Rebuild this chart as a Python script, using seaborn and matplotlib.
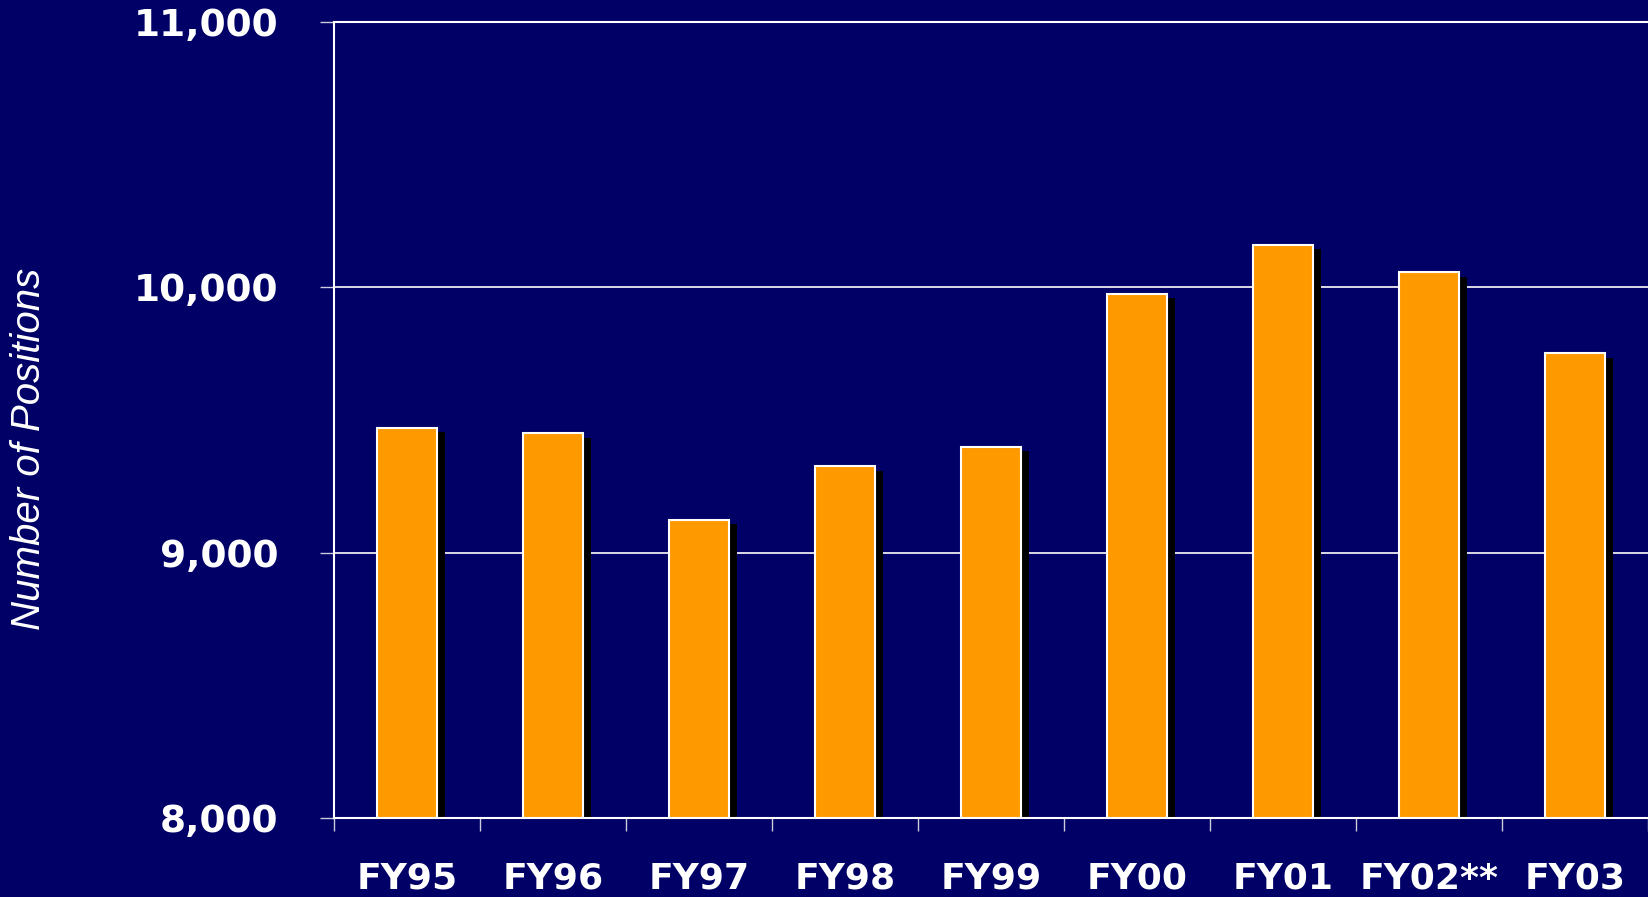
import matplotlib
matplotlib.use("Agg")
import matplotlib.pyplot as plt
import matplotlib.patheffects as pe
from matplotlib.ticker import FuncFormatter, FixedLocator
import pandas as pd
import seaborn as sns

years = ['FY95', 'FY96', 'FY97', 'FY98', 'FY99', 'FY00', 'FY01', 'FY02**', 'FY03']
positions = [9470, 9450, 9125, 9325, 9400, 9975, 10160, 10057, 9752]
y_ticks = [8000, 9000, 10000, 11000]

navy = '#000066'
orange = '#FF9900'

sns.set_style("white")
plt.rcParams['font.family'] = ['DejaVu Sans']

df = pd.DataFrame({'year': years, 'positions': positions})

fig = plt.figure(figsize=(16.48, 8.97), dpi=100, facecolor=navy)
ax = fig.add_axes([334 / 1648, 79 / 897, 1314 / 1648, 796 / 897])
ax.set_facecolor(navy)

sns.barplot(data=df, x='year', y='positions', color=orange, saturation=1,
            edgecolor='white', linewidth=1.5, width=0.41, ax=ax)

for bar in ax.patches:
    bar.set_path_effects([pe.SimplePatchShadow(offset=(5.5, -3.2), shadow_rgbFace='black', alpha=1.0),
                          pe.Normal()])

ax.set_ylim(8000, 11000)
ax.set_xlim(-0.5, len(years) - 0.5)
ax.set_yticks(y_ticks)
ax.yaxis.set_major_formatter(FuncFormatter(lambda v, p: f'{int(v):,}'))
ax.set_axisbelow(True)
ax.grid(axis='y', color='white', linewidth=1.2)

# category boundary ticks below the axis
ax.xaxis.set_minor_locator(FixedLocator([i - 0.5 for i in range(len(years) + 1)]))
ax.tick_params(axis='x', which='minor', bottom=True, length=9, width=1, color='#ccccdd')
ax.tick_params(axis='x', which='major', length=0, pad=31, labelsize=26, labelcolor='white')
ax.tick_params(axis='y', which='major', left=True, length=10, width=1, color='#ccccdd',
               pad=30, labelsize=27, labelcolor='white')
for lab in ax.get_xticklabels() + ax.get_yticklabels():
    lab.set_fontweight('bold')

for side in ['left', 'bottom', 'top']:
    ax.spines[side].set_color('white')
    ax.spines[side].set_linewidth(1.5)
ax.spines['right'].set_visible(False)

ax.set_xlabel('')
ax.set_ylabel('')
fig.text(29 / 1648, 1 - 449 / 897, 'Number of Positions', rotation=90, ha='center', va='center',
         color='white', fontsize=29, fontstyle='italic', family=['Liberation Sans', 'DejaVu Sans'])

fig.savefig('out.png', dpi=100, facecolor=navy)
